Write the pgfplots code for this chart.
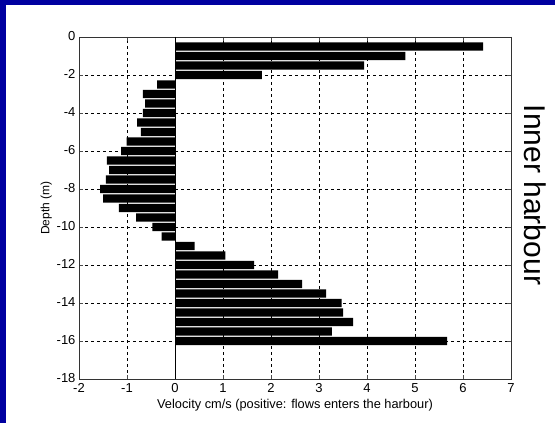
\documentclass[border=0pt]{standalone}
\usepackage{pgfplots}
\pgfplotsset{compat=1.18}
\usepackage{fontspec}
\setmainfont{Liberation Sans}
\definecolor{frameblue}{RGB}{0,0,160}
\begin{document}
\begin{tikzpicture}[x=1pt,y=1pt]
\path[use as bounding box, fill=white] (0,0) rectangle (555,423);
\fill[frameblue] (0,0) rectangle (6,423);
\fill[frameblue] (0,418) rectangle (555,423);
\begin{axis}[at={(79pt,44pt)}, anchor=south west, scale only axis,
  width=432pt, height=342pt,
  xmin=-2, xmax=7, ymin=-18, ymax=0,
  xtick={-2,-1,0,1,2,3,4,5,6,7}, ytick={-18,-16,-14,-12,-10,-8,-6,-4,-2,0},
  xbar, bar width=8.4pt,
  grid=major, grid style={dashed, black, line width=0.6pt},
  tick align=inside, major tick length=4pt, tick style={black!70},
  axis line style={black!80, line width=0.8pt},
  /pgf/number format/assume math mode=true,
  ticklabel style={font=\fontsize{13}{15}\selectfont},
  xticklabel style={yshift=-1pt},
  yticklabel style={yshift=1pt},
  xlabel={Velocity cm/s (positive: flows enters the harbour)},
  ylabel={Depth (m)},
  xlabel style={font=\fontsize{12.8}{14}\selectfont, yshift=0pt},
  ylabel style={font=\fontsize{12}{14}\selectfont, yshift=-2pt},
]
\addplot[fill=black, draw=none] coordinates {
(6.42,-0.5) (4.80,-1.0) (3.94,-1.5) (1.81,-2.0)
(-0.375,-2.5) (-0.67,-3.0) (-0.625,-3.5) (-0.67,-4.0) (-0.79,-4.5) (-0.71,-5.0)
(-1.01,-5.5) (-1.125,-6.0) (-1.42,-6.5) (-1.375,-7.0) (-1.44,-7.5) (-1.56,-8.0)
(-1.50,-8.5) (-1.17,-9.0) (-0.81,-9.5) (-0.47,-10.0) (-0.28,-10.5)
(0.41,-11.0) (1.05,-11.5) (1.65,-12.0) (2.15,-12.5) (2.65,-13.0) (3.15,-13.5)
(3.47,-14.0) (3.50,-14.5) (3.71,-15.0) (3.27,-15.5) (5.67,-16.0)
};
\draw[black, line width=0.8pt] (axis cs:0,-18) -- (axis cs:0,0);
\end{axis}
\node[rotate=-90, font=\fontsize{30}{32}\selectfont] at (535,228) {Inner harbour};
\end{tikzpicture}
\end{document}
